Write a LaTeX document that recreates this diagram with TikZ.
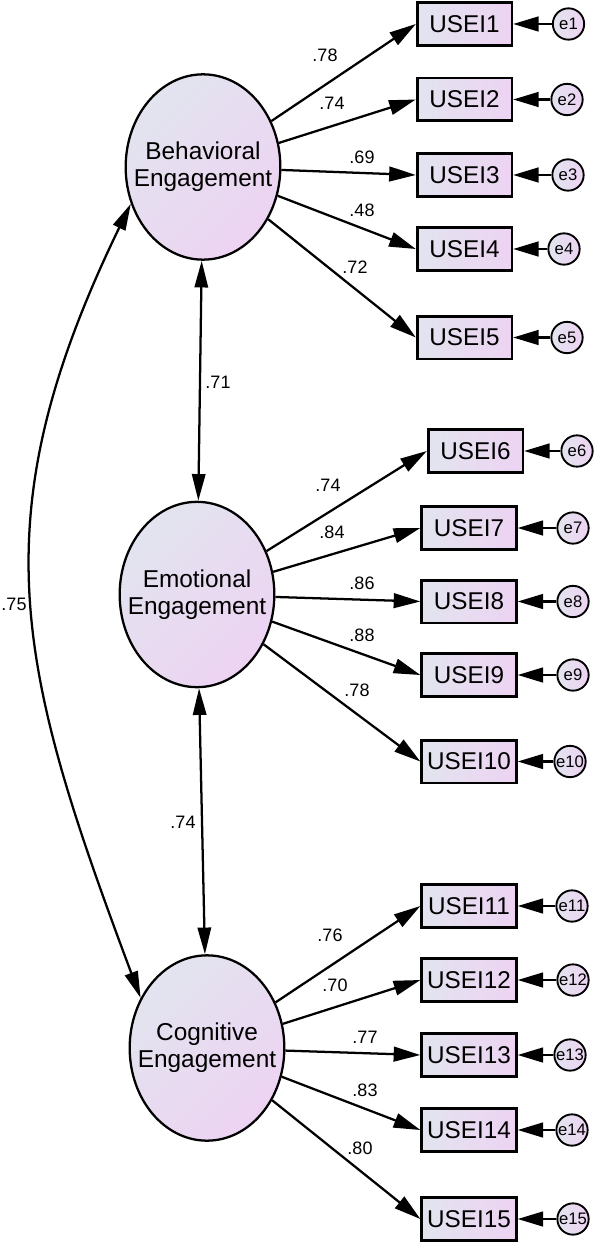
\documentclass[tikz,border=0pt]{standalone}
\usepackage{fontspec}
\setmainfont{Liberation Sans}
\usetikzlibrary{shapes.geometric, arrows.meta}

\definecolor{fillA}{RGB}{226,228,239}
\definecolor{fillB}{RGB}{237,211,242}

\tikzset{
  latent/.style={ellipse, draw, line width=1.7pt, inner sep=0pt,
    minimum width=116pt, minimum height=139pt,
    top color=fillA, bottom color=fillB, shading angle=45},
  lattext/.style={align=center, font=\fontsize{18.3}{20.3}\selectfont},
  indicator/.style={rectangle, draw, line width=2pt, inner sep=0pt,
    minimum width=71pt, minimum height=32pt,
    left color=fillA, right color=fillB, font=\fontsize{18.2}{20}\selectfont},
  errterm/.style={circle, draw, line width=1.4pt, inner sep=0pt, minimum size=23.5pt,
    left color=fillA, right color=fillB, font=\fontsize{12.5}{14}\selectfont},
  loading/.style={line width=1.7pt, -{Triangle[length=20pt,width=11pt]}},
  errpath/.style={line width=1.7pt, -{Triangle[length=19pt,width=11pt]}},
  covpath/.style={line width=1.7pt, {Triangle[length=20pt,width=10pt]}-{Triangle[length=20pt,width=10pt]}},
  coef/.style={inner sep=0pt, font=\fontsize{13.5}{16}\selectfont}
}

\begin{document}
\begin{tikzpicture}[x=0.75pt,y=0.75pt,yscale=-1,xscale=1]
    \useasboundingbox (0,0) rectangle (595,1244);

    % Latent factors
    \node [latent, label={[name=Btext, lattext]center:Behavioral\\Engagement}] (B) at (203,167) {};
    \node [latent, label={[name=Etext, lattext]center:Emotional\\Engagement}] (E) at (197,594.5) {};
    \node [latent, label={[name=Ctext, lattext]center:Cognitive\\Engagement}] (C) at (207,1048) {};

    % Indicators, error terms and loadings
    \foreach \i/\lat/\bx/\by/\ex/\lx/\ly/\val in {
        1/B/464.5/24/568.5/325/55/.78,
        2/B/464.5/99.5/567/332/103/.74,
        3/B/464.5/175/568/362/157/.69,
        4/B/464.5/249/564/362/210/.48,
        5/B/464.5/337.5/567/355/267/.72,
        6/E/475.5/451/577/328/485/.74,
        7/E/469/528/573/332/532/.84,
        8/E/469/601.5/573/362/583/.86,
        9/E/469/675/573/362/635/.88,
        10/E/469/761.5/570/357/690/.78,
        11/C/469/906/572/330/935/.76,
        12/C/469/980/573/335/985/.70,
        13/C/469/1055/570/365/1037/.77,
        14/C/469/1130/572/365/1090/.83,
        15/C/469/1219/573/360/1148/.80}{
      \node [indicator] (u\i) at (\bx,\by) {USEI\i};
      \node [errterm] (e\i) at (\ex,\by) {e\i};
      \draw [loading] (\lat) -- (u\i.west);
      \draw [errpath] (e\i) -- (u\i);
      \node [coef] (l\i) at (\lx,\ly) {\val};
    }

    % Factor covariances
    \draw [covpath] (B) -- (E);
    \draw [covpath] (E) -- (C);
    \draw [covpath] (B.207) .. controls (-22,519) and (17,668) .. (C.143);

    % Text Node
    \node [coef] (rBE) at (218,382) {.71};
    % Text Node
    \node [coef] (rEC) at (183,822) {.74};
    % Text Node
    \node [coef] (rBC) at (14,604) {.75};

\end{tikzpicture}
\end{document}
